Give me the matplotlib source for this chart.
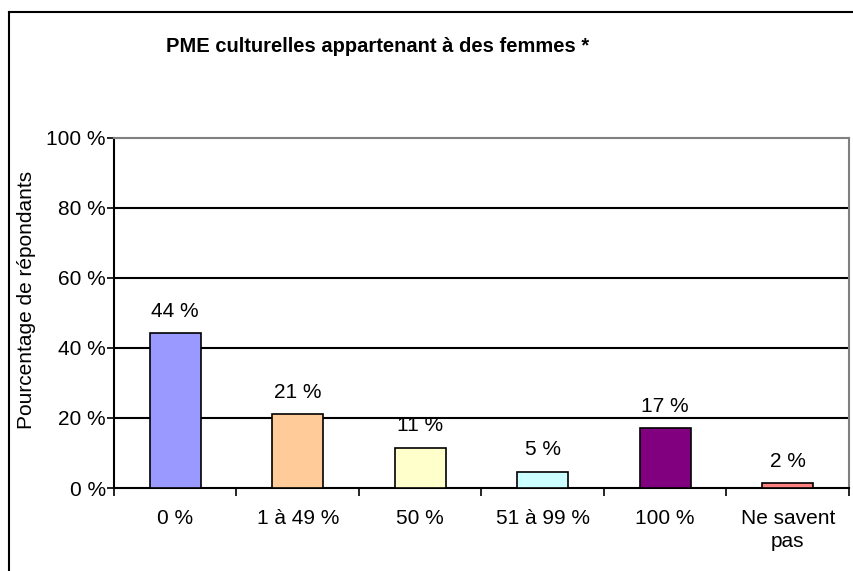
import matplotlib.pyplot as plt
from matplotlib.lines import Line2D

plt.rcParams['font.family'] = ['Liberation Sans', 'DejaVu Sans']

categories = ['0 %', '1 à 49 %', '50 %', '51 à 99 %', '100 %', 'Ne savent\npas']
values = [44.2, 21.1, 11.5, 4.7, 17.1, 1.4]
labels = ['44 %', '21 %', '11 %', '5 %', '17 %', '2 %']
colors = ['#9999FF', '#FFCC99', '#FFFFCC', '#CCFFFF', '#800080', '#FF8080']
yticks = [0, 20, 40, 60, 80, 100]

fig = plt.figure(figsize=(8.54, 5.71), dpi=100)
ax = fig.add_axes([114 / 854, 1 - 488 / 571, 735 / 854, 350.5 / 571])

x = list(range(len(categories)))
bars = ax.bar(x, values, width=0.42, color=colors, edgecolor='black', linewidth=1.2, zorder=3)

for b, lab in zip(bars, labels):
    ax.annotate(lab, (b.get_x() + b.get_width() / 2, b.get_height()),
                xytext=(0, 9), textcoords='offset points',
                ha='center', va='bottom', fontsize=15)

ax.set_xlim(-0.5, len(categories) - 0.5)
ax.set_ylim(0, 100)
ax.set_yticks(yticks)
ax.set_yticklabels([f'{t} %' for t in yticks], fontsize=15)
ax.tick_params(axis='y', direction='out', length=5, width=1.2, pad=1)

# category boundary ticks on the x axis, labels centred under bars
ax.set_xticks([i - 0.5 for i in range(len(categories) + 1)])
ax.set_xticklabels([])
ax.set_xticks(x, minor=True)
ax.set_xticklabels(categories, minor=True, fontsize=15, linespacing=1.3)
ax.tick_params(axis='x', which='major', direction='out', length=6, width=1.2)
ax.tick_params(axis='x', which='minor', length=0, pad=15)

for t in yticks[1:-1]:
    ax.axhline(t, color='black', linewidth=1.5, zorder=1)

ax.spines['left'].set_color('black')
ax.spines['left'].set_linewidth(1.5)
ax.spines['bottom'].set_color('black')
ax.spines['bottom'].set_linewidth(1.5)
ax.spines['top'].set_color('#808080')
ax.spines['top'].set_linewidth(1.5)
ax.spines['right'].set_color('#808080')
ax.spines['right'].set_linewidth(1.5)

fig.text(378 / 854, 1 - 46 / 571, 'PME culturelles appartenant à des femmes *',
         ha='center', va='center', fontsize=14.5, fontweight='bold')
fig.text(27 / 854, 1 - 300 / 571, 'Pourcentage de répondants',
         ha='center', va='center', rotation=90, fontsize=15)

# outer chart frame (left and top edges visible)
fig.add_artist(Line2D([9 / 854, 9 / 854], [0, 1 - 12 / 571], color='black', linewidth=1.5,
                      transform=fig.transFigure))
fig.add_artist(Line2D([9 / 854, 1], [1 - 12 / 571, 1 - 12 / 571], color='black', linewidth=1.5,
                      transform=fig.transFigure))

fig.savefig('out.png', dpi=100)
